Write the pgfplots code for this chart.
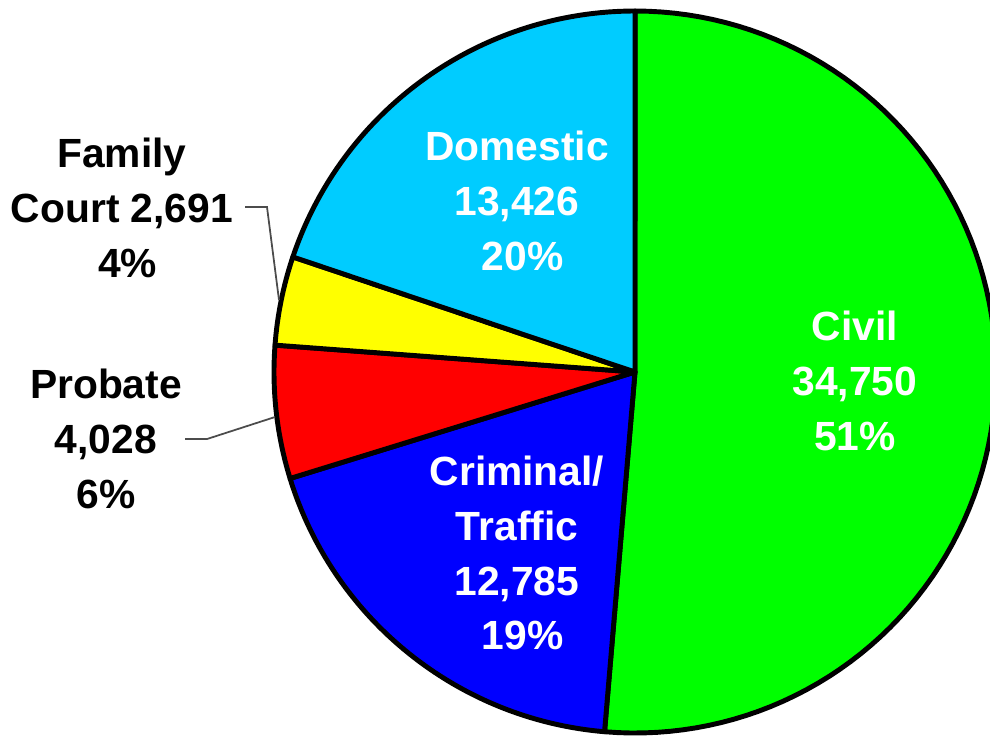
\documentclass[border=0pt]{standalone}
\usepackage{fontspec}
\setmainfont{Liberation Sans}
\usepackage{pgfplots}
\pgfplotsset{compat=1.18}

\definecolor{civil}{HTML}{00FF00}
\definecolor{crim}{HTML}{0000FF}
\definecolor{prob}{HTML}{FF0000}
\definecolor{fam}{HTML}{FFFF00}
\definecolor{dom}{HTML}{00CCFF}

% case counts
\def\vCivil{34750}
\def\vCrim{12785}
\def\vProb{4028}
\def\vFam{2691}
\def\vDom{13426}
\edef\tot{\fpeval{\vCivil+\vCrim+\vProb+\vFam+\vDom}}
% slice boundaries, clockwise from the top
\edef\aA{90}
\edef\aB{\fpeval{\aA-360*\vCivil/\tot}}
\edef\aC{\fpeval{\aB-360*\vCrim/\tot}}
\edef\aD{\fpeval{\aC-360*\vProb/\tot}}
\edef\aE{\fpeval{\aD-360*\vFam/\tot}}
\edef\aF{\fpeval{\aE-360*\vDom/\tot}}

\newcommand{\slice}[3]{%
  \addplot[fill=#1, draw=black, line width=1.4pt, line join=round,
    domain=#3:#2, samples=90, variable=\t]
    ({361*cos(\t)}, {361*sin(\t)}) -- (axis cs:0,0) -- cycle;}

\begin{document}
\begin{tikzpicture}
\begin{axis}[
    scale only axis,
    width=9.9cm, height=7.35cm,
    xmin=-635, xmax=355,
    ymin=-363, ymax=372,
    hide axis,
    nodes={font=\fontsize{11.6}{15.6}\selectfont\bfseries, align=center}
]
\slice{civil}{\aA}{\aB}
\slice{crim}{\aB}{\aC}
\slice{prob}{\aC}{\aD}
\slice{fam}{\aD}{\aE}
\slice{dom}{\aE}{\aF}

\node[white] at (axis cs:-118,171) {Domestic\\13,426\\~20\%};
\node[white] at (axis cs:220,-9) {Civil\\34,750\\51\%};
\node[white] at (axis cs:-118,-181) {Criminal/\\Traffic\\12,785\\~19\%};
\node[black] at (axis cs:-513,164) {Family\\Court 2,691\\~4\%};
\node[black] at (axis cs:-529,-67) {Probate\\4,028\\6\%};

\draw[black!70, line width=0.5pt] (axis cs:-390,165) -- (axis cs:-368,165) -- (axis cs:-356,72);
\draw[black!70, line width=0.5pt] (axis cs:-450,-67) -- (axis cs:-428,-67) -- (axis cs:-360,-45);
\end{axis}
\pgfresetboundingbox
\path (current axis.south west) rectangle (current axis.north east);
\end{tikzpicture}
\end{document}
